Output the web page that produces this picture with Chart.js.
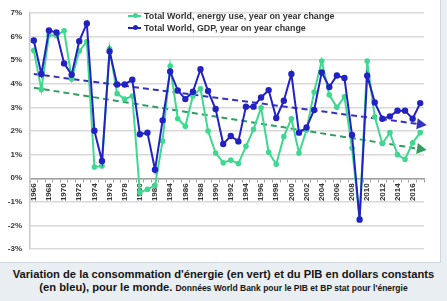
<!DOCTYPE html>
<html>
<head>
<meta charset="utf-8">
<script src="https://cdn.jsdelivr.net/npm/chart.js@4"></script>
<style>
  body { margin: 0; background: #e9eef3; width: 447px; height: 301px; overflow: hidden; font-family: "Liberation Sans", Arial, sans-serif; }
  #frame { position: absolute; left: 0; top: 0; width: 440px; height: 262px; background: #fff; border-right: 1px solid #cfd6dd; border-bottom: 1px solid #cfd6dd; }
  #legend { position: absolute; left: 128px; top: 10px; font-weight: bold; font-size: 8.9px; color: #333; line-height: 12px; white-space: nowrap; }
  .sw { display: inline-block; width: 13px; height: 2px; position: relative; vertical-align: middle; margin-right: 3px; top: -1px; }
  .sw::after { content: ""; position: absolute; left: 5px; top: -1.5px; width: 5px; height: 5px; border-radius: 50%; background: inherit; }
  #caption { position: absolute; left: 0; top: 268px; width: 447px; text-align: center; font-weight: bold; font-size: 11.2px; color: #151515; line-height: 13px; }
  #caption small { font-size: 8.5px; }
</style>
</head>
<body>
<div id="frame"><canvas id="c" width="440" height="262"></canvas></div>
<div id="legend">
  <div><span class="sw" style="background:#3fd88f"></span>Total World, energy use, year on year change</div>
  <div><span class="sw" style="background:#2222c4"></span>Total World, GDP, year on year change</div>
</div>
<div id="caption">Variation de la consommation d'énergie (en vert) et du PIB en dollars constants<br>(en bleu), pour le monde. <small>Données World Bank pour le PIB et BP stat pour l'énergie</small></div>
<script>
const years = [];
for (let y = 1966; y <= 2017; y++) years.push(String(y));

// year on year change, %
const energy = [5.41, 3.76, 6.06, 6.03, 6.24, 4.2, 5.38, 5.78, 0.48, 0.52,
  5.48, 3.58, 3.35, 3.48, -0.6, -0.47, -0.3, 1.58, 4.75, 2.52,
  2.2, 3.48, 3.79, 2.0, 1.07, 0.66, 0.77, 0.62, 1.35, 2.07,
  2.98, 1.1, 0.59, 1.76, 2.52, 1.07, 2.04, 3.65, 4.96, 3.53,
  3.0, 3.45, 1.28, -1.7, 4.96, 2.6, 1.47, 1.93, 1.0, 0.8,
  1.5, 1.93];
const gdp = [5.83, 4.41, 6.25, 6.17, 4.86, 4.38, 5.80, 6.55, 2.01, 0.73,
  5.37, 3.97, 3.97, 4.17, 1.86, 1.93, 0.36, 2.45, 4.52, 3.72,
  3.35, 3.66, 4.61, 3.69, 2.93, 1.45, 1.79, 1.56, 3.03, 3.03,
  3.42, 3.73, 2.55, 3.28, 4.41, 1.93, 2.15, 2.89, 4.48, 3.86,
  4.35, 4.24, 1.83, -1.75, 4.34, 3.21, 2.52, 2.62, 2.86, 2.86,
  2.52, 3.18];

// linear trends (start / end)
const trendYears = ['1966', '2017'];
const gdpTrend = [4.41, 2.29];
const energyTrend = [3.83, 1.24];

const GREEN = '#3fd88f', BLUE = '#2222c4';

const trend = (vals, color, rot) => ({
  data: trendYears.map((x, i) => ({ x, y: vals[i] })),
  borderColor: color,
  backgroundColor: color,
  borderWidth: 2,
  borderDash: [6, 4],
  pointStyle: 'triangle',
  pointRadius: [0, 4.5],
  rotation: rot,
  order: 3
});

new Chart(document.getElementById('c'), {
  type: 'line',
  data: {
    labels: years,
    datasets: [
      { label: 'GDP', data: gdp, borderColor: BLUE, backgroundColor: BLUE,
        borderWidth: 2, pointRadius: 2.2, tension: 0, order: 1 },
      { label: 'Energy', data: energy, borderColor: GREEN, backgroundColor: GREEN,
        borderWidth: 2, pointRadius: 1.8, tension: 0, order: 2 },
      trend(gdpTrend, '#3333c0', 97.5),
      trend(energyTrend, '#2f9f60', 99)
    ]
  },
  options: {
    responsive: false,
    animation: false,
    devicePixelRatio: 1,
    layout: { padding: { top: 7, right: 16, bottom: 9, left: 0 } },
    plugins: { legend: { display: false }, tooltip: { enabled: false } },
    scales: {
      x: {
        position: { y: 0 },
        offset: true,
        grid: { drawOnChartArea: false, offset: true, tickLength: 3, color: '#a0a0a0' },
        border: { color: '#a0a0a0', width: 1.5 },
        ticks: {
          autoSkip: false, minRotation: 90, maxRotation: 90, padding: 2,
          color: '#333', font: { family: 'Liberation Sans', size: 8, weight: 'bold' },
          callback: (v, i) => (i % 2 === 0 ? years[i] : '')
        }
      },
      y: {
        min: -3, max: 7,
        afterFit: s => { s.width = 30; },
        grid: { color: '#d9d9d9', lineWidth: 1.5, drawTicks: false },
        border: { color: '#c8c8c8', width: 1.5 },
        ticks: {
          stepSize: 1, padding: 8, color: '#333',
          font: { family: 'Liberation Sans', size: 8, weight: 'bold' },
          callback: v => v + '%'
        }
      }
    }
  }
});
</script>
</body>
</html>
